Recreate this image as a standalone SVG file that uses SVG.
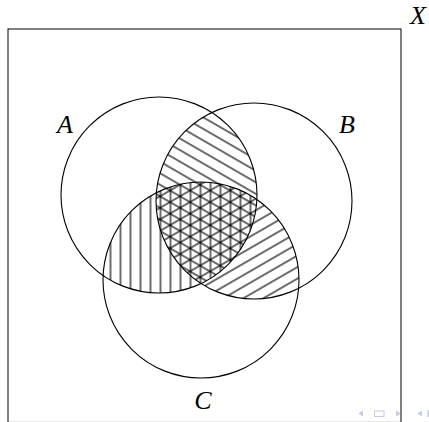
<svg xmlns="http://www.w3.org/2000/svg" width="429" height="422" viewBox="0 0 429 422">
<style>
.set{fill:none;stroke:#000;stroke-width:1.1}
.lbl{font-family:"Liberation Serif","DejaVu Serif",serif;font-style:italic;font-size:26px;fill:#000;text-anchor:middle}
.nav{fill:#c8c8e8;stroke:none}
.h{stroke:#000;stroke-width:1.15}
</style>
<defs>
<pattern id="pV" patternUnits="userSpaceOnUse" x="5.5" y="0" width="10" height="10">
<path class="h" d="M5 -1V11"/>
</pattern>
<pattern id="pNW" patternUnits="userSpaceOnUse" x="5" y="0" width="10" height="10" patternTransform="rotate(-60)">
<path class="h" d="M5 -1V11"/>
</pattern>
<pattern id="pNE" patternUnits="userSpaceOnUse" x="5" y="0" width="10" height="10" patternTransform="rotate(60)">
<path class="h" d="M5 -1V11"/>
</pattern>
<clipPath id="clipA"><circle cx="159" cy="195" r="98"/></clipPath>
<clipPath id="clipB"><circle cx="254" cy="201" r="98"/></clipPath>
</defs>
<rect x="0" y="0" width="429" height="422" fill="#fff"/>
<g id="universe">
<rect x="8" y="29" width="393" height="393.4" fill="none" stroke="#000" stroke-width="1"/>
<text class="lbl" x="418" y="24">X</text>
</g>
<g id="hatching">
<circle cx="254" cy="201" r="98" fill="url(#pNW)" clip-path="url(#clipA)"/>
<circle cx="201" cy="280" r="98" fill="url(#pNE)" clip-path="url(#clipB)"/>
<circle cx="201" cy="280" r="98" fill="url(#pV)" clip-path="url(#clipA)"/>
</g>
<g id="setA">
<circle class="set" cx="159" cy="195" r="98"/>
<text class="lbl" x="65" y="133">A</text>
</g>
<g id="setB">
<circle class="set" cx="254" cy="201" r="98"/>
<text class="lbl" x="347" y="133">B</text>
</g>
<g id="setC">
<circle class="set" cx="201" cy="280" r="98"/>
<text class="lbl" x="203" y="409">C</text>
</g>
<g id="navigation">
<path class="nav" d="M358.5 413.5L363 410.5V416.5Z"/>
<rect x="374.5" y="411" width="9.5" height="5.5" fill="none" stroke="#c8c8e8" stroke-width="1"/>
<path class="nav" d="M400.5 413.5L396 410.5V416.5Z"/>
<path class="nav" d="M417.5 413.5L422 410.5V416.5Z"/>
<rect class="nav" x="427.5" y="410" width="1.5" height="7"/>
</g>
</svg>
